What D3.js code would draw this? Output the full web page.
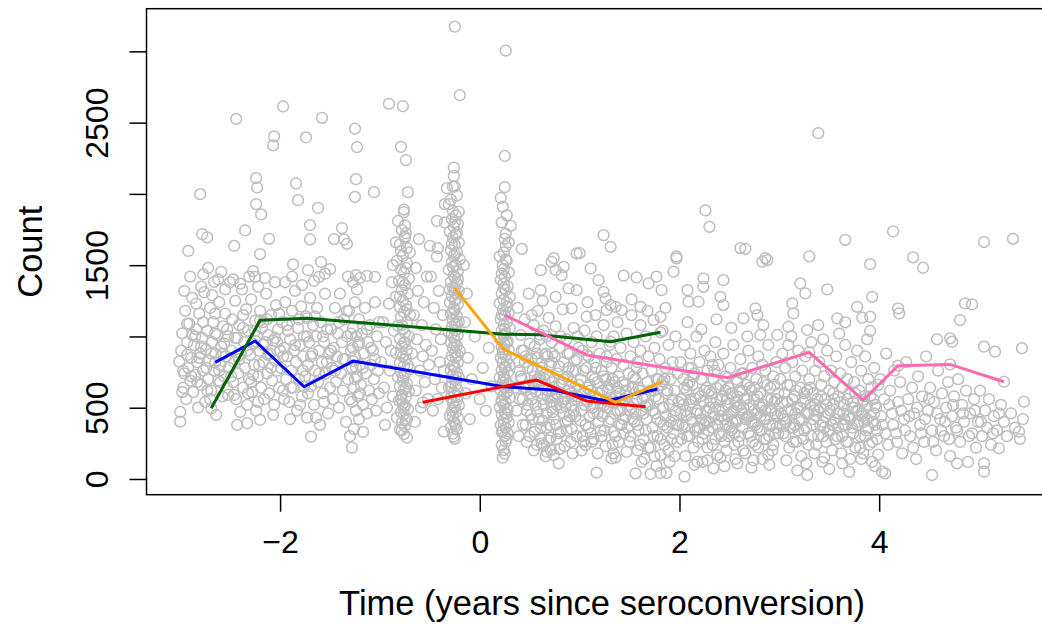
<!DOCTYPE html>
<html>
<head>
<meta charset="utf-8">
<script src="https://cdnjs.cloudflare.com/ajax/libs/d3/7.8.5/d3.min.js"></script>
<style>
body { margin: 0; background: #ffffff; }
svg { display: block; font-family: "Liberation Sans", Arial, Helvetica, sans-serif; }
</style>
</head>
<body>
<script>
// CD4 counts against time since seroconversion, [years, count]

// before -2.5 years
var ptsA = [[-3.01,823],[-2.98,1022],[-2.96,741],[-3.00,470],[-3.00,402],[-2.92,1600],[-2.80,1998],[-2.78,1718],[-2.73,1695],[-2.77,1435],[-2.59,1453],[-2.66,1383],
  [-2.99,900],[-2.97,640],[-2.95,1180],[-2.94,560],[-2.93,960],[-2.92,780],[-2.91,1090],[-2.90,690],[-2.89,850],[-2.88,1270],[-2.87,610],[-2.86,940],[-2.85,730],[-2.84,1050],[-2.83,820],[-2.82,500],[-2.81,1160],[-2.80,880],[-2.79,660],[-2.78,990],[-2.77,760],[-2.76,1310],[-2.75,540],[-2.74,910],[-2.73,1040],[-2.72,700],[-2.71,830],[-2.70,1200],[-2.69,620],[-2.68,960],[-2.67,1100],[-2.66,760],[-2.65,880],[-2.64,450],[-2.63,1010],[-2.62,690],[-2.61,1240],[-2.60,800],[-2.59,930],[-2.58,580],[-2.57,1070],[-2.56,720],[-2.55,1160],[-2.54,860],[-2.53,640],[-2.52,1000],[-2.51,780],[-2.50,1380],
  [-2.96,1320],[-2.90,1420],[-2.84,1230],[-2.79,1350],[-2.72,1480],[-2.68,1290],[-2.62,1400],[-2.55,1330],
  [-2.98,610],[-2.93,870],[-2.88,1010],[-2.83,680],[-2.79,930],[-2.74,780],[-2.70,560],[-2.65,1020],[-2.60,680],[-2.56,950],[-2.52,590]];

// -2.5 to -2
var ptsB = [[-2.44,2526],[-2.06,2403],[-2.07,2340],[-2.24,2110],[-2.23,2045],[-2.24,1928],[-2.19,1856],[-2.35,1744],[-2.46,1635],[-2.11,1685],[-2.20,1578],[-2.27,1458],[-2.25,1418],[-2.43,379],[-2.33,391],[-2.20,414],
  [-2.49,900],[-2.48,1120],[-2.47,680],[-2.46,820],[-2.45,1250],[-2.44,560],[-2.43,990],[-2.42,740],[-2.41,1080],[-2.40,470],[-2.39,880],[-2.38,1330],[-2.37,640],[-2.36,960],[-2.35,780],[-2.34,1190],[-2.33,520],[-2.32,1040],[-2.31,700],[-2.30,870],[-2.29,1260],[-2.28,610],[-2.27,950],[-2.26,800],[-2.25,1110],[-2.24,480],[-2.23,1000],[-2.22,720],[-2.21,900],[-2.20,1180],[-2.19,640],[-2.18,1060],[-2.17,820],[-2.16,560],[-2.15,960],[-2.14,1300],[-2.13,740],[-2.12,1010],[-2.11,600],[-2.10,880],[-2.09,1150],[-2.08,690],[-2.07,970],[-2.06,520],[-2.05,830],[-2.04,1220],[-2.03,760],[-2.02,1050],[-2.01,640],[-2.00,900],
  [-2.47,1400],[-2.40,1370],[-2.31,1420],[-2.22,1350],[-2.15,1410],[-2.05,1380],
  [-2.46,590],[-2.42,860],[-2.37,1060],[-2.32,600],[-2.27,730],[-2.22,540],[-2.17,1100],[-2.12,870],[-2.07,450],[-2.03,960]];

// -2 to -1.5
var ptsC = [[-1.97,2613],[-1.74,2396],[-1.84,2073],[-1.82,1956],[-1.62,1902],[-1.70,1781],[-1.70,1680],[-1.58,2534],[-1.87,1505],[-1.72,1465],[-1.59,1523],[-1.61,1418],[-1.69,297],
  [-1.99,780],[-1.98,1100],[-1.97,620],[-1.96,920],[-1.95,1240],[-1.94,700],[-1.93,860],[-1.92,1040],[-1.91,540],[-1.90,980],[-1.89,760],[-1.88,1180],[-1.87,640],[-1.86,900],[-1.85,1320],[-1.84,820],[-1.83,480],[-1.82,1060],[-1.81,700],[-1.80,940],[-1.79,1210],[-1.78,580],[-1.77,860],[-1.76,1000],[-1.75,720],[-1.74,1140],[-1.73,430],[-1.72,800],[-1.71,960],[-1.70,1270],[-1.69,650],[-1.68,880],[-1.67,1080],[-1.66,520],[-1.65,760],[-1.64,1000],[-1.63,1200],[-1.62,680],[-1.61,900],[-1.60,380],[-1.59,1100],[-1.58,820],[-1.57,600],[-1.56,960],[-1.55,1300],[-1.54,740],[-1.53,1050],[-1.52,460],[-1.51,880],[-1.50,640],
  [-1.95,1380],[-1.88,1420],[-1.78,1360],[-1.66,1390],[-1.55,1440],
  [-1.96,560],[-1.90,420],[-1.80,520],[-1.72,600],[-1.64,430],[-1.56,540]];

// -1.5 to -1 (visit near -1.25)
var ptsD = [[-1.25,2457],[-1.23,2328],[-1.24,2103],[-1.25,1979],[-1.06,2012],[-1.38,1760],[-1.46,1683],[-1.36,1680],[-1.33,1650],[-1.50,1472],[-1.24,1430],[-1.13,1425],[-1.05,1418],[-1.28,220],
  [-1.49,1050],[-1.48,780],[-1.47,560],[-1.46,920],[-1.45,1200],[-1.44,680],[-1.43,860],[-1.42,1020],[-1.41,500],[-1.40,1300],[-1.39,740],[-1.38,960],[-1.37,620],[-1.36,1120],[-1.35,840],[-1.34,400],[-1.33,1000],[-1.32,700],[-1.31,1180],[-1.30,560],[-1.29,900],[-1.28,780],[-1.27,1060],[-1.26,350],[-1.26,640],[-1.25,1240],[-1.25,860],[-1.24,480],[-1.24,1000],[-1.23,720],[-1.23,1330],[-1.22,580],[-1.22,940],[-1.21,420],[-1.21,1120],[-1.20,800],[-1.19,660],[-1.18,1020],[-1.17,520],[-1.16,880],[-1.15,1200],[-1.14,740],[-1.13,460],[-1.12,960],[-1.11,620],[-1.10,1080],[-1.09,800],[-1.08,560],[-1.07,900],[-1.06,700],[-1.05,1240],[-1.04,480],[-1.03,1000],[-1.02,760],[-1.01,600],
  [-1.30,300],[-1.27,1380],[-1.20,1410],[-1.32,1420],[-1.17,330],[-1.28,540],[-1.24,780],[-1.20,600],[-1.27,920]];

// extra density in the left core
var ptsCoreLeft = [[-2.97,760],[-2.93,1090],[-2.89,720],[-2.85,1000],[-2.81,850],[-2.77,1100],[-2.73,620],[-2.69,880],[-2.65,1160],[-2.61,760],[-2.57,880],[-2.53,1050],[-2.49,720],[-2.45,990],[-2.41,840],[-2.37,1150],[-2.33,900],[-2.29,680],[-2.25,1040],[-2.21,800],[-2.17,940],[-2.13,1120],[-2.09,780],[-2.05,990],[-2.01,1160],[-1.97,860],[-1.93,1080],[-1.89,640],[-1.85,940],[-1.81,1120],[-1.77,760],[-1.73,1000],[-1.69,860],[-1.65,1140],[-1.61,740],[-1.57,1000],[-1.53,820],[-1.49,900],[-1.45,760],[-1.41,1100],[-1.37,840],[-1.33,1180],[-1.29,1020],[-1.25,700],[-1.21,960],[-1.17,780],[-1.13,1050],[-1.09,920],[-1.05,840],[-1.01,1100]];

// -1 to -0.5 (visit near -0.75)
var ptsE = [[-0.91,2632],[-0.77,2615],[-0.79,2330],[-0.74,2237],[-0.72,2012],[-0.76,1872],[-0.76,1890],[-0.75,1779],[-0.75,1690],[-0.84,1660],[-0.73,1620],[-0.61,1683],[-0.50,1636],
  [-0.82,1810],[-0.78,1745],[-0.74,1725],[-0.80,1645],[-0.70,1590],[-0.77,1565],[-0.83,1530],[-0.73,1515],[-0.79,1470],[-0.76,1445],[-0.71,1405],[-0.81,1390],[-0.75,1360],[-0.78,1325],[-0.72,1300],[-0.84,1280],[-0.77,1250],[-0.74,1220],[-0.80,1205],[-0.76,1170],[-0.70,1150],[-0.79,1135],[-0.73,1100],[-0.82,1075],[-0.77,1050],[-0.75,1025],[-0.71,1000],[-0.80,985],[-0.76,955],[-0.78,930],[-0.73,905],[-0.84,885],[-0.77,860],[-0.74,845],[-0.80,815],[-0.76,790],[-0.70,770],[-0.79,750],[-0.75,730],[-0.82,715],[-0.77,690],[-0.73,670],[-0.80,650],[-0.76,630],[-0.71,615],[-0.78,590],[-0.74,575],[-0.81,550],[-0.77,530],[-0.75,515],[-0.72,490],[-0.79,470],[-0.76,455],[-0.83,430],[-0.74,410],[-0.78,395],[-0.75,370],[-0.80,345],[-0.76,315],[-0.73,290],
  [-0.75,1700],[-0.79,1600],[-0.74,1480],[-0.77,1380],[-0.80,1280],[-0.73,1190],[-0.78,1080],[-0.75,960],[-0.79,880],[-0.72,800],[-0.77,720],[-0.74,640],[-0.79,560],[-0.76,500],[-0.73,420],[-0.78,340],
  [-0.99,820],[-0.97,1100],[-0.96,640],[-0.94,960],[-0.93,500],[-0.91,1230],[-0.90,760],[-0.89,900],[-0.88,1380],[-0.87,580],[-0.86,1040],[-0.68,880],[-0.66,1150],[-0.64,620],[-0.63,980],[-0.62,1320],[-0.60,760],[-0.59,500],[-0.58,1080],[-0.57,860],[-0.56,1240],[-0.55,680],[-0.54,940],[-0.53,1420],[-0.52,560],[-0.51,800],[-0.95,380],[-0.65,400],[-0.87,1500],[-0.64,1480]];

// visit near -0.25 and the gap up to 0.12
var ptsF = [[-0.25,3173],[-0.20,2692],[-0.26,2185],[-0.26,2126],[-0.27,2052],[-0.25,2052],[-0.33,2040],[-0.35,1928],[-0.31,1928],[-0.21,1876],[-0.43,1811],[-0.35,1800],[-0.26,297],[-0.36,332],[-0.23,1990],[-0.29,1960],
  [-0.24,1850],[-0.28,1822],[-0.22,1788],[-0.26,1768],[-0.30,1736],[-0.24,1712],[-0.27,1694],[-0.21,1658],[-0.25,1642],[-0.29,1606],[-0.23,1592],[-0.26,1563],[-0.20,1541],[-0.28,1522],[-0.24,1498],[-0.31,1468],[-0.22,1457],[-0.26,1428],[-0.25,1412],[-0.29,1383],[-0.23,1372],[-0.27,1344],[-0.21,1318],[-0.25,1306],[-0.28,1282],[-0.24,1259],[-0.30,1238],[-0.22,1227],[-0.26,1198],[-0.25,1182],[-0.29,1158],[-0.23,1141],[-0.27,1118],[-0.21,1102],[-0.25,1084],[-0.28,1066],[-0.24,1043],[-0.31,1031],[-0.22,1008],[-0.26,992],[-0.25,973],[-0.29,957],[-0.23,933],[-0.27,921],[-0.20,898],[-0.25,886],[-0.28,863],[-0.24,851],[-0.30,828],[-0.22,816],[-0.26,798],[-0.25,782],[-0.29,763],[-0.23,747],[-0.27,728],[-0.21,712],[-0.25,693],[-0.28,677],[-0.24,658],[-0.31,642],[-0.22,623],[-0.26,607],[-0.25,588],[-0.29,572],[-0.23,553],[-0.27,537],[-0.21,518],[-0.25,502],[-0.28,478],[-0.24,467],[-0.30,443],[-0.22,427],[-0.26,403],[-0.25,387],[-0.29,363],[-0.23,347],[-0.27,318],
  [-0.27,1880],[-0.25,1800],[-0.23,1728],[-0.28,1650],[-0.25,1578],[-0.27,1488],[-0.22,1402],[-0.30,1330],[-0.25,1250],[-0.27,1168],[-0.23,1092],[-0.28,1018],[-0.25,942],[-0.22,868],[-0.27,792],[-0.24,718],[-0.29,648],[-0.22,578],[-0.26,508],[-0.27,440],[-0.24,372],[-0.25,282],
  [-0.48,900],[-0.46,1200],[-0.45,700],[-0.44,1050],[-0.42,560],[-0.41,1320],[-0.40,820],[-0.39,980],[-0.38,640],[-0.37,1150],[-0.36,760],[-0.49,1420],[-0.47,480],[-0.43,1560],[-0.42,1620],
  [-0.15,1100],[-0.14,600],[-0.12,850],[-0.10,420],[-0.08,700],[-0.05,1000],[0.00,560],[0.03,780],[0.06,480],[0.09,920],[0.12,650],[-0.16,1500],[-0.13,1300]];

// visit near 0.25
var ptsG = [[0.26,3005],[0.25,2266],[0.25,2047],[0.21,1972],[0.31,1776],[0.25,1685],[0.26,1633],[0.42,1614],[0.24,203],[0.22,238],[0.26,262],[0.27,285],
  [0.23,1910],[0.27,1850],[0.22,1800],[0.26,1720],[0.29,1660],
  [0.24,1590],[0.20,1562],[0.27,1531],[0.23,1498],[0.24,1473],[0.29,1449],[0.25,1418],[0.21,1396],[0.24,1372],[0.28,1351],[0.26,1325],[0.22,1302],[0.30,1278],[0.24,1256],[0.20,1232],[0.27,1208],[0.23,1189],[0.29,1166],[0.25,1144],[0.21,1121],[0.27,1098],[0.24,1082],[0.30,1058],[0.22,1041],[0.26,1019],[0.24,1002],[0.20,984],[0.28,966],[0.25,943],[0.22,927],[0.29,904],[0.24,889],[0.26,871],[0.21,852],[0.27,833],[0.23,816],[0.30,798],[0.25,781],[0.22,763],[0.28,746],[0.24,728],[0.20,712],[0.26,693],[0.23,677],[0.29,658],[0.25,641],[0.21,623],[0.27,606],[0.24,588],[0.30,571],[0.22,553],[0.26,538],[0.24,521],[0.20,503],[0.28,487],[0.25,468],[0.22,452],[0.27,431],[0.24,414],[0.29,396],[0.21,378],[0.26,361],[0.23,338],[0.28,318],[0.25,301],
  [0.26,1540],[0.22,1440],[0.24,1340],[0.27,1240],[0.22,1150],[0.25,1050],[0.27,958],[0.23,878],[0.26,788],[0.24,702],[0.28,618],[0.22,542],[0.26,458],[0.24,388],[0.22,330],[0.25,178],[0.23,150]];

// 0.35 to 1
var ptsH = [[0.74,1550],[0.97,1582],[0.61,1465],[0.72,1523],[0.76,1465],[0.84,1488],[0.82,1430],[0.89,1337],[0.97,1325],[0.61,1325],[0.76,1278],[0.92,1197],[0.79,110],[0.74,168],[0.67,191],[0.61,285],[0.64,238],[0.71,203],
  [0.38,1200],[0.39,820],[0.40,560],[0.41,1010],[0.42,700],[0.43,380],[0.44,900],[0.45,1120],[0.46,640],[0.47,480],[0.48,780],[0.49,1300],[0.50,950],[0.51,600],[0.52,840],[0.53,420],[0.54,1080],[0.55,720],[0.56,520],[0.57,880],[0.58,1180],[0.59,660],[0.60,980],[0.61,360],[0.62,780],[0.63,560],[0.64,1040],[0.65,700],[0.66,880],[0.67,460],[0.68,620],[0.69,1130],[0.70,800],[0.71,540],[0.72,960],[0.73,680],[0.74,420],[0.75,860],[0.76,1070],[0.77,600],[0.78,740],[0.79,320],[0.80,920],[0.81,500],[0.82,680],[0.83,1190],[0.84,820],[0.85,560],[0.86,400],[0.87,980],[0.88,720],[0.89,620],[0.90,880],[0.91,260],[0.92,520],[0.93,760],[0.94,1060],[0.95,640],[0.96,440],[0.97,840],[0.98,580],[0.99,920],
  [0.40,760],[0.44,640],[0.48,520],[0.52,1150],[0.55,930],[0.58,470],[0.62,600],[0.66,740],[0.70,380],[0.73,880],[0.77,520],[0.80,660],[0.84,460],[0.88,880],[0.92,680],[0.96,760],[0.50,300],[0.57,240],[0.63,1250],[0.69,270],[0.75,580],[0.81,1000],[0.87,340],[0.93,580],[0.98,1000],[0.46,860],[0.54,640],[0.60,720],[0.67,1000],[0.72,820],
  [0.36,640],[0.37,480],[0.39,300],[0.41,720],[0.43,560],[0.45,820],[0.46,380],[0.49,660],[0.51,450],[0.53,760],[0.55,330],[0.56,610],[0.58,850],[0.59,420],[0.61,690],[0.62,250],[0.64,520],[0.65,870],[0.67,360],[0.68,580],[0.70,710],[0.71,290],[0.73,470],[0.74,640],[0.76,380],[0.78,560],[0.79,790],[0.81,330],[0.82,600],[0.84,700],[0.85,230],[0.86,510],[0.88,410],[0.89,780],[0.91,600],[0.92,350],[0.94,480],[0.95,830],[0.97,300],[0.99,660],[0.42,900],[0.47,260],[0.52,560],[0.57,680],[0.63,410],[0.68,860],[0.72,500],[0.77,280],[0.83,540],[0.90,440],[0.96,560],[0.54,200],[0.66,160],[0.80,210],[0.93,180]];

// 1 to 2
var ptsI = [[1.00,1585],[1.24,1711],[1.31,1629],[1.97,1561],[1.11,1477],[1.19,1395],[1.44,1426],[1.57,1414],[1.69,1372],[1.77,1419],[1.82,1325],[1.94,1454],[1.97,1548],[1.24,1313],[1.26,1267],[1.31,1220],[1.61,1208],[1.52,1150],[1.61,1080],[1.74,1115],[1.81,1138],[1.07,1138],[1.16,1150],[1.27,1185],[1.36,1208],[1.42,1185],[1.17,44],[1.56,40],[1.71,35],[1.81,42],[1.87,42],[1.32,145],[1.34,180],[1.04,262],[1.06,238],[1.81,168],
  [1.01,700],[1.02,480],[1.03,900],[1.04,600],[1.05,1040],[1.06,380],[1.07,780],[1.08,540],[1.09,860],[1.10,660],[1.11,320],[1.12,960],[1.13,720],[1.14,460],[1.15,820],[1.16,580],[1.17,1000],[1.18,680],[1.19,400],[1.20,880],[1.21,520],[1.22,760],[1.23,620],[1.24,1080],[1.25,340],[1.26,700],[1.27,860],[1.28,500],[1.29,640],[1.30,940],[1.31,420],[1.32,780],[1.33,560],[1.34,1000],[1.35,680],[1.36,300],[1.37,840],[1.38,480],[1.39,720],[1.40,600],[1.41,920],[1.42,380],[1.43,540],[1.44,800],[1.45,660],[1.46,440],[1.47,1020],[1.48,580],[1.49,740],[1.50,260],[1.51,860],[1.52,500],[1.53,640],[1.54,960],[1.55,400],[1.56,700],[1.57,560],[1.58,820],[1.59,340],[1.60,620],[1.61,900],[1.62,480],[1.63,740],[1.64,280],[1.65,580],[1.66,1000],[1.67,420],[1.68,680],[1.69,860],[1.70,520],[1.71,220],[1.72,760],[1.73,360],[1.74,620],[1.75,920],[1.76,460],[1.77,700],[1.78,300],[1.79,560],[1.80,840],[1.81,400],[1.82,660],[1.83,1040],[1.84,500],[1.85,240],[1.86,780],[1.87,600],[1.88,360],[1.89,940],[1.90,520],[1.91,700],[1.92,280],[1.93,820],[1.94,440],[1.95,620],[1.96,1000],[1.97,380],[1.98,740],[1.99,540],
  [1.05,520],[1.10,440],[1.15,700],[1.20,600],[1.25,520],[1.30,660],[1.35,460],[1.40,380],[1.45,560],[1.50,480],[1.55,600],[1.12,260],[1.22,300],[1.33,240],[1.44,320],[1.58,200],[1.65,140],[1.75,160],[1.90,120],[1.08,1240],[1.38,1100],[1.52,1260],[1.68,1180],[1.86,1200],
  [1.01,410],[1.03,300],[1.04,760],[1.06,560],[1.08,640],[1.09,360],[1.11,620],[1.13,500],[1.14,280],[1.16,780],[1.18,460],[1.19,560],[1.21,340],[1.23,440],[1.24,720],[1.26,230],[1.28,620],[1.29,400],[1.31,540],[1.33,700],[1.34,330],[1.36,580],[1.38,640],[1.39,260],[1.41,480],[1.43,680],[1.44,420],[1.46,620],[1.48,360],[1.49,520],[1.51,300],[1.53,420],[1.54,720],[1.56,460],[1.58,380],[1.59,640],[1.61,240],[1.63,560],[1.64,460],[1.66,340],[1.68,520],[1.69,220],[1.71,620],[1.73,480],[1.74,300],[1.76,580],[1.78,420],[1.79,700],[1.81,280],[1.83,500],[1.84,380],[1.86,440],[1.88,620],[1.89,200],[1.91,400],[1.93,560],[1.94,320],[1.96,480],[1.98,260],[1.99,380],
  [1.02,200],[1.18,180],[1.36,150],[1.47,190],[1.62,120],[1.77,90],[1.95,160],[1.27,820],[1.57,780],[1.85,700]];

// 2 to 3
var ptsJ = [[2.05,16],[2.18,121],[2.38,168],[2.34,75],[2.58,110],[2.26,1884],[2.30,1769],[2.61,1620],[2.66,1615],[2.86,1550],[2.83,1524],[2.88,1536],[2.08,1325],[2.19,1244],[2.09,1244],[2.24,1407],[2.24,1348],[2.44,1395],[2.41,1278],[2.44,1220],[2.64,1127],[2.76,1197],[2.78,1150],[2.84,1080],[2.81,1010],[2.98,1010],
  [2.01,820],[2.02,560],[2.03,380],[2.04,700],[2.05,940],[2.06,480],[2.07,620],[2.08,300],[2.09,780],[2.10,520],[2.11,880],[2.12,420],[2.13,660],[2.14,220],[2.15,740],[2.16,560],[2.17,1000],[2.18,360],[2.19,600],[2.20,820],[2.21,460],[2.22,700],[2.23,280],[2.24,540],[2.25,900],[2.26,400],[2.27,640],[2.28,760],[2.29,340],[2.30,500],[2.31,860],[2.32,600],[2.33,240],[2.34,700],[2.35,440],[2.36,960],[2.37,560],[2.38,380],[2.39,800],[2.40,480],[2.41,660],[2.42,300],[2.43,580],[2.44,880],[2.45,420],[2.46,720],[2.47,200],[2.48,520],[2.49,640],[2.50,360],[2.51,780],[2.52,460],[2.53,600],[2.54,940],[2.55,320],[2.56,540],[2.57,700],[2.58,420],[2.59,260],[2.60,620],[2.61,840],[2.62,480],[2.63,360],[2.64,740],[2.65,560],[2.66,180],[2.67,660],[2.68,440],[2.69,900],[2.70,520],[2.71,300],[2.72,620],[2.73,780],[2.74,400],[2.75,560],[2.76,240],[2.77,700],[2.78,460],[2.79,860],[2.80,340],[2.81,600],[2.82,500],[2.83,140],[2.84,680],[2.85,420],[2.86,760],[2.87,280],[2.88,560],[2.89,940],[2.90,380],[2.91,640],[2.92,480],[2.93,200],[2.94,720],[2.95,540],[2.96,320],[2.97,820],[2.98,440],[2.99,600],
  [2.05,640],[2.12,540],[2.18,480],[2.25,380],[2.30,620],[2.36,500],[2.42,440],[2.48,560],[2.53,400],[2.58,580],[2.64,500],[2.70,440],[2.75,640],[2.80,520],[2.86,480],[2.92,560],[2.97,360],[2.08,1100],[2.22,1050],[2.37,1120],[2.52,1060],[2.68,1000],[2.15,100],[2.28,130],[2.45,90],[2.72,80],[2.90,100],[2.10,680],[2.20,360],[2.33,800],[2.46,620],[2.57,500],[2.63,620],[2.78,360],[2.95,660],
  [2.01,460],[2.02,280],[2.04,520],[2.05,360],[2.07,440],[2.08,660],[2.10,300],[2.11,560],[2.13,400],[2.14,720],[2.16,340],[2.17,460],[2.19,260],[2.21,580],[2.22,420],[2.24,320],[2.25,620],[2.27,480],[2.28,220],[2.30,400],[2.31,540],[2.33,360],[2.34,460],[2.36,280],[2.37,640],[2.39,420],[2.40,320],[2.42,560],[2.43,480],[2.45,260],[2.46,380],[2.48,440],[2.49,300],[2.51,600],[2.52,340],[2.54,480],[2.55,240],[2.57,400],[2.58,680],[2.60,300],[2.61,520],[2.63,460],[2.64,200],[2.66,420],[2.67,560],[2.69,320],[2.70,640],[2.72,400],[2.73,260],[2.75,480],[2.76,380],[2.78,580],[2.79,220],[2.81,440],[2.82,340],[2.84,520],[2.85,280],[2.87,420],[2.88,660],[2.90,300],[2.91,500],[2.93,380],[2.94,240],[2.96,460],[2.97,560],[2.99,320],
  [2.06,160],[2.23,120],[2.41,150],[2.56,140],[2.74,130],[2.89,170],[2.12,780],[2.35,760],[2.62,740],[2.83,800]];

// 3 to 4
var ptsK = [[3.39,2426],[3.30,1562],[3.66,1678],[3.91,1507],[3.21,1372],[3.26,1302],[3.48,1330],[3.93,1278],[3.13,1232],[3.14,1162],[3.78,1208],[3.83,1131],[3.91,1138],[3.91,1038],[3.58,1127],[3.66,1099],[3.09,1068],[3.28,1045],[3.39,1080],[3.28,28],
  [3.01,700],[3.02,460],[3.03,880],[3.04,320],[3.05,600],[3.06,780],[3.07,400],[3.08,540],[3.09,940],[3.10,220],[3.11,660],[3.12,480],[3.13,820],[3.14,360],[3.15,580],[3.16,720],[3.17,260],[3.18,500],[3.19,900],[3.20,420],[3.21,640],[3.22,160],[3.23,760],[3.24,540],[3.25,340],[3.26,860],[3.27,460],[3.28,620],[3.29,240],[3.30,700],[3.31,520],[3.32,960],[3.33,380],[3.34,600],[3.35,180],[3.36,760],[3.37,440],[3.38,560],[3.39,300],[3.40,820],[3.41,500],[3.42,660],[3.43,120],[3.44,400],[3.45,720],[3.46,560],[3.47,260],[3.48,900],[3.49,460],[3.50,620],[3.51,340],[3.52,760],[3.53,200],[3.54,520],[3.55,680],[3.56,420],[3.57,860],[3.58,300],[3.59,580],[3.60,460],[3.61,740],[3.62,180],[3.63,640],[3.64,380],[3.65,520],[3.66,940],[3.67,260],[3.68,700],[3.69,440],[3.70,600],[3.71,140],[3.72,820],[3.73,360],[3.74,540],[3.75,680],[3.76,220],[3.77,480],[3.78,900],[3.79,400],[3.80,620],[3.81,300],[3.82,760],[3.83,460],[3.84,180],[3.85,580],[3.86,860],[3.87,340],[3.88,520],[3.89,700],[3.90,240],[3.91,440],[3.92,640],[3.93,120],[3.94,560],[3.95,780],[3.96,380],[3.97,500],[3.98,280],[3.99,660],
  [3.05,420],[3.15,380],[3.25,600],[3.35,480],[3.45,360],[3.55,560],[3.65,420],[3.75,500],[3.85,400],[3.95,460],[3.12,1000],[3.44,980],[3.60,1020],[3.88,980],[3.18,60],[3.50,70],[3.70,50],[3.96,90],
  [3.01,380],[3.03,540],[3.04,440],[3.06,300],[3.08,660],[3.09,480],[3.11,360],[3.13,560],[3.14,260],[3.16,460],[3.17,620],[3.19,340],[3.21,500],[3.22,420],[3.24,280],[3.26,560],[3.27,360],[3.29,460],[3.31,640],[3.32,300],[3.34,420],[3.36,520],[3.37,240],[3.39,480],[3.41,380],[3.42,580],[3.44,300],[3.46,440],[3.47,520],[3.49,340],[3.51,480],[3.53,380],[3.54,600],[3.56,280],[3.58,460],[3.59,360],[3.61,540],[3.63,300],[3.64,460],[3.66,380],[3.68,560],[3.69,260],[3.71,420],[3.73,500],[3.74,320],[3.76,600],[3.78,380],[3.79,480],[3.81,220],[3.83,440],[3.84,540],[3.86,300],[3.88,420],[3.89,360],[3.91,580],[3.93,260],[3.94,400],[3.96,520],[3.98,340],
  [3.07,130],[3.27,110],[3.45,150],[3.63,110],[3.82,140],[3.99,170]];

// after 4 years
var ptsL = [[4.14,1737],[4.34,1555],[5.05,1662],[5.34,1685],[4.44,1482],[4.19,1197],[4.20,1162],[4.86,1232],[4.93,1225],[4.81,1115],[4.58,980],[4.71,987],[4.73,963],[5.05,928],[5.16,893],[5.43,917],[5.45,542],[5.40,332],[5.20,215],[5.05,110],[5.05,51],[4.78,110],[4.53,28],[4.06,40],[4.03,51],
  [4.01,700],[4.03,380],[4.05,560],[4.07,880],[4.09,240],[4.11,620],[4.13,460],[4.15,760],[4.17,320],[4.19,540],[4.21,680],[4.23,180],[4.25,420],[4.27,820],[4.29,560],[4.31,300],[4.33,640],[4.35,460],[4.37,140],[4.39,720],[4.41,380],[4.43,580],[4.45,260],[4.47,860],[4.49,480],[4.51,640],[4.53,340],[4.55,540],[4.57,200],[4.59,760],[4.61,420],[4.63,600],[4.65,300],[4.67,500],[4.69,680],[4.71,160],[4.73,440],[4.75,580],[4.77,360],[4.79,700],[4.81,260],[4.83,520],[4.85,400],[4.87,620],[4.89,120],[4.91,460],[4.93,320],[4.95,560],[4.97,220],[4.99,400],[5.01,620],[5.03,300],[5.06,480],[5.08,360],[5.10,560],[5.12,240],[5.15,440],[5.18,340],[5.22,520],[5.25,400],[5.28,300],[5.32,460],[5.36,360],[5.41,280],[5.44,420],
  [4.02,440],[4.06,320],[4.10,520],[4.14,380],[4.18,260],[4.22,480],[4.26,340],[4.30,440],[4.34,220],[4.38,500],[4.42,320],[4.46,420],[4.50,560],[4.54,260],[4.58,460],[4.62,340],[4.66,400],[4.70,280],[4.74,520],[4.78,340],[4.84,460],[4.90,300],[4.96,480],[5.02,400],[5.14,320],[5.20,460]];

// five highlighted men
var subjBlue   = [[-2.65,818],[-2.25,968],[-1.76,647],[-1.27,827],[0.24,647],[0.72,625],[1.27,547],[1.78,631]];
var subjGreen  = [[-2.69,496],[-2.20,1113],[-1.73,1127],[0.24,1015],[0.60,1012],[1.31,963],[1.81,1029]];
var subjRed    = [[-0.57,538],[0.57,694],[1.07,547],[1.66,507]];
var subjOrange = [[-0.25,1337],[0.24,909],[1.36,538],[1.83,683]];
var subjPink   = [[0.25,1150],[1.07,870],[2.48,710],[3.30,888],[3.84,554],[4.19,795],[4.71,804],[5.25,682]];

var xTicks = [-2, 0, 2, 4];
var xTickLabels = ["\u22122", "0", "2", "4"];
var yTicks = [0, 500, 1000, 1500, 2000, 2500, 3000];
var yTickLabels = ["0", "500", "", "1500", "", "2500", ""];

var w = 1042;
var h = 624;
const plot = {left: 146.5, right: 1057.7, top: 8.7, bottom: 494.7};
const tickFont = 32;
const titleFont = 34.5;

var allPts = [].concat(ptsA, ptsB, ptsC, ptsD, ptsCoreLeft, ptsE, ptsF, ptsG, ptsH, ptsI, ptsJ, ptsK, ptsL,
  subjBlue, subjGreen, subjRed, subjOrange, subjPink);

// R style 4% padding around the data range
var xr = [-3.0, 5.45];
var yr = [16, 3173];
var xPad = (xr[1] - xr[0]) * 0.04;
var yPad = (yr[1] - yr[0]) * 0.04;

var x = d3.scaleLinear()
          .domain([xr[0] - xPad, xr[1] + xPad])
          .range([plot.left, plot.right]);
var y = d3.scaleLinear()
          .domain([yr[0] - yPad, yr[1] + yPad])
          .range([plot.bottom, plot.top]);

var svg = d3.select("body")
            .append("svg")
            .attr("width", w)
            .attr("height", h);

// points
svg.append("g")
   .selectAll("circle")
   .data(allPts)
   .enter()
   .append("circle")
   .attr("cx", function(d) { return x(d[0]); })
   .attr("cy", function(d) { return y(d[1]); })
   .attr("r", 5.4)
   .attr("fill", "none")
   .attr("stroke", "#bebebe")
   .attr("stroke-width", 1.5);

// frame
svg.append("rect")
   .attr("x", plot.left)
   .attr("y", plot.top)
   .attr("width", plot.right - plot.left)
   .attr("height", plot.bottom - plot.top)
   .attr("fill", "none")
   .attr("stroke", "#000")
   .attr("stroke-width", 1.5);

// x axis
var xAxis = d3.axisBottom(x)
              .tickValues(xTicks)
              .tickSize(17)
              .tickFormat(function(d, i) { return xTickLabels[i]; });
var gx = svg.append("g")
            .attr("transform", "translate(0," + plot.bottom + ")")
            .call(xAxis);
gx.select(".domain").remove();
gx.selectAll("line").attr("stroke", "#000").attr("stroke-width", 1.5);
gx.selectAll("text")
  .attr("y", 58)
  .attr("dy", null)
  .attr("fill", "#000")
  .style("font-size", tickFont + "px")
  .style("font-family", "'Liberation Sans', Arial, Helvetica, sans-serif");

// y axis
var yAxis = d3.axisLeft(y)
              .tickValues(yTicks)
              .tickSize(17)
              .tickFormat(function(d, i) { return yTickLabels[i]; });
var gy = svg.append("g")
            .attr("transform", "translate(" + plot.left + ",0)")
            .call(yAxis);
gy.select(".domain").remove();
gy.selectAll("line").attr("stroke", "#000").attr("stroke-width", 1.5);
gy.selectAll("text")
  .attr("transform", "rotate(-90)")
  .attr("x", 0)
  .attr("y", -38.5)
  .attr("dy", null)
  .attr("text-anchor", "middle")
  .attr("fill", "#000")
  .style("font-size", tickFont + "px")
  .style("font-family", "'Liberation Sans', Arial, Helvetica, sans-serif");

// subject trajectories
var line = d3.line()
             .x(function(d) { return x(d[0]); })
             .y(function(d) { return y(d[1]); });
var subjects = [
  {pts: subjBlue, col: "#0000ff"},
  {pts: subjGreen, col: "#006400"},
  {pts: subjRed, col: "#ff0000"},
  {pts: subjOrange, col: "#ffa500"},
  {pts: subjPink, col: "#ff69b4"}
];
svg.append("g")
   .selectAll("path")
   .data(subjects)
   .enter()
   .append("path")
   .attr("d", function(d) { return line(d.pts); })
   .attr("fill", "none")
   .attr("stroke", function(d) { return d.col; })
   .attr("stroke-width", 3)
   .attr("stroke-linejoin", "round");

// axis titles
svg.append("text")
   .attr("x", (plot.left + plot.right) / 2)
   .attr("y", 615)
   .attr("text-anchor", "middle")
   .style("font-size", titleFont + "px")
   .text("Time (years since seroconversion)");

svg.append("text")
   .attr("transform", "translate(42," + (plot.top + plot.bottom) / 2 + ") rotate(-90)")
   .attr("text-anchor", "middle")
   .style("font-size", titleFont + "px")
   .text("Count");
</script>
</body>
</html>
